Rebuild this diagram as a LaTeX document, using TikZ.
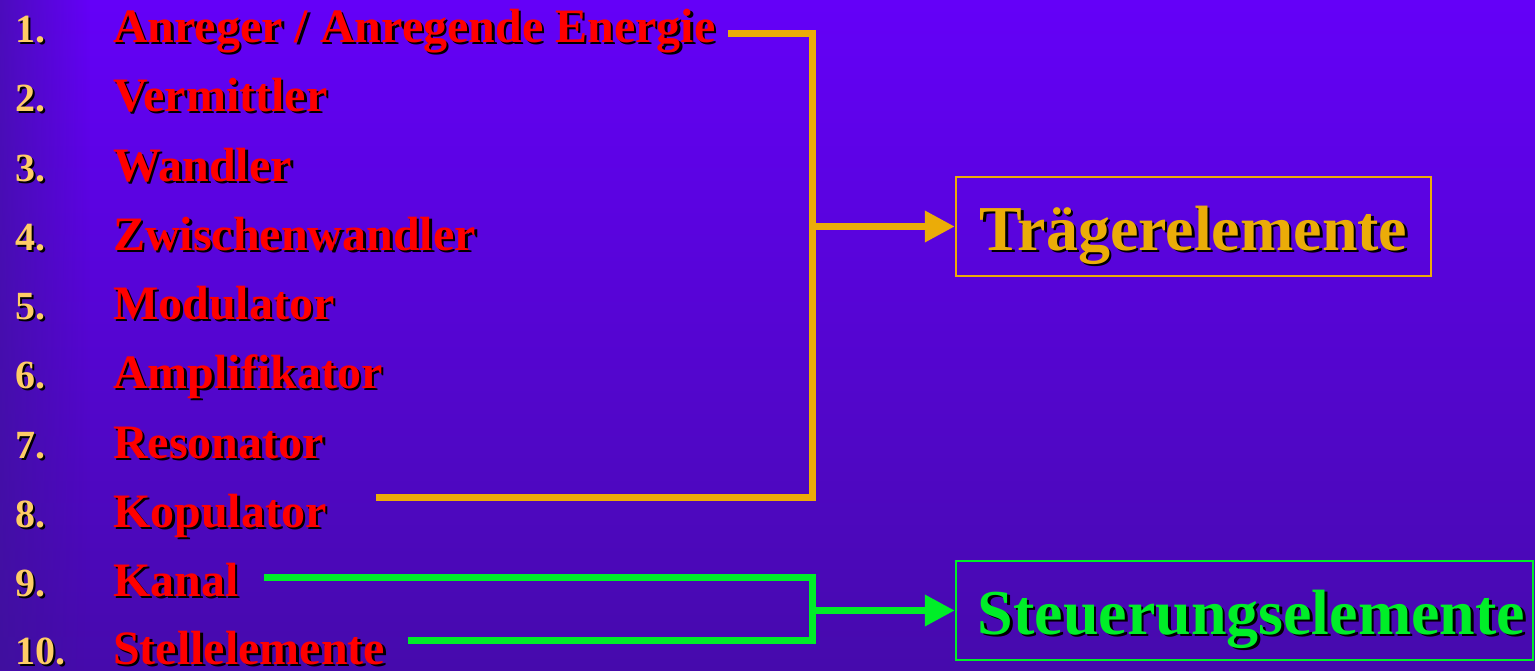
\documentclass[tikz,border=0pt]{standalone}
\usepackage{fontspec}
\setmainfont{Liberation Serif}
\usetikzlibrary{arrows.meta,fadings}
\definecolor{bgtop}{RGB}{100,0,248}
\definecolor{bgbot}{RGB}{70,10,172}
\definecolor{bgedge}{RGB}{60,20,150}
\definecolor{numc}{RGB}{255,204,102}
\definecolor{itemc}{RGB}{255,0,0}
\definecolor{orangec}{RGB}{235,172,8}
\definecolor{greenc}{RGB}{0,238,40}
\newcommand\shd[2]{\makebox[0pt][l]{\hspace*{2.5pt}\raisebox{-2.5pt}{\textcolor{black}{#2}}}\textcolor{#1}{#2}}
\tikzset{
  num/.style={anchor=base west,inner sep=0pt,font=\fontsize{40}{46}\selectfont\bfseries},
  item/.style={anchor=base west,inner sep=0pt,font=\fontsize{48}{56}\selectfont\bfseries},
  oline/.style={draw=orangec,line width=7pt,line join=miter},
  gline/.style={draw=greenc,line width=7pt,line join=miter},
  otip/.style={-{Triangle[length=30pt,width=30pt]}},
  bigbox/.style={line width=2.5pt,inner sep=0pt,minimum height=99pt,text height=47pt,text depth=0pt,font=\fontsize{64}{72}\selectfont\bfseries}
}
\begin{document}
\begin{tikzpicture}[x=1pt,y=-1pt]
\useasboundingbox (0,0) rectangle (1535,670);
\shade[top color=bgtop,bottom color=bgbot] (0,0) rectangle (1535,670);
\fill[bgedge,opacity=0.6,path fading=east] (0,0) rectangle (90,670);

% numbers
\node[num] (k1) at (15,42) {\shd{numc}{1.}};
\node[num] (k2) at (15,111) {\shd{numc}{2.}};
\node[num] (k3) at (15,181) {\shd{numc}{3.}};
\node[num] (k4) at (15,250) {\shd{numc}{4.}};
\node[num] (k5) at (15,319) {\shd{numc}{5.}};
\node[num] (k6) at (15,388) {\shd{numc}{6.}};
\node[num] (k7) at (15,458) {\shd{numc}{7.}};
\node[num] (k8) at (15,527) {\shd{numc}{8.}};
\node[num] (k9) at (15,596) {\shd{numc}{9.}};
\node[num] (k10) at (15,664) {\shd{numc}{10.}};

% items
\node[item] (n1) at (113,42) {\shd{itemc}{Anreger / Anregende Energie}};
\node[item] (n2) at (113,111) {\shd{itemc}{Vermittler}};
\node[item] (n3) at (113,181) {\shd{itemc}{Wandler}};
\node[item] (n4) at (113,250) {\shd{itemc}{Zwischenwandler}};
\node[item] (n5) at (113,319) {\shd{itemc}{Modulator}};
\node[item] (n6) at (113,388) {\shd{itemc}{Amplifikator}};
\node[item] (n7) at (113,458) {\shd{itemc}{Resonator}};
\node[item] (n8) at (113,527) {\shd{itemc}{Kopulator}};
\node[item] (n9) at (113,596) {\shd{itemc}{Kanal}};
\node[item] (n10) at (113,664) {\shd{itemc}{Stellelemente}};

% boxes
\node[bigbox,draw=orangec,minimum width=475pt] (bT) at (1193.5,226.5) {\shd{orangec}{Trägerelemente}};
\node[bigbox,draw=greenc,minimum width=577pt] (bS) at (1244.5,610.5) {\hspace*{14pt}\shd{greenc}{Steuerungselemente}};

% connector coordinates
\coordinate (s1) at (728,33);
\coordinate (s8) at (376,497);
\coordinate (vT) at (812,226.5);
\coordinate (s9) at (264,577);
\coordinate (s10) at (408,640);
\coordinate (vS) at (812,610.5);

\draw[oline] (s1) -| (vT) |- (s8);
\draw[oline,otip] (vT) -- (bT.west);
\draw[gline] (s9) -| (vS) |- (s10);
\draw[gline,otip] (vS) -- (bS.west);
\end{tikzpicture}
\end{document}
